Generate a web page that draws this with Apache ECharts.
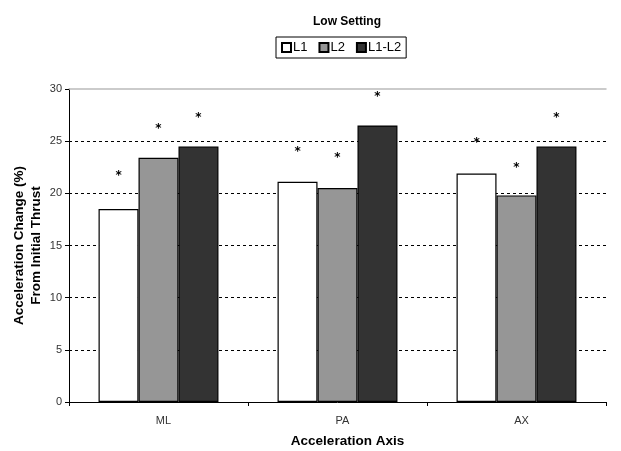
<!DOCTYPE html>
<html><head><meta charset="utf-8">
<script src="https://cdn.jsdelivr.net/npm/echarts@6/dist/echarts.min.js"></script>
<style>html,body{margin:0;padding:0;background:#fff}#c{width:621px;height:451px}</style>
</head><body><div id="c"></div>
<script>
var categories = ['ML', 'PA', 'AX'];
var seriesNames = ['L1', 'L2', 'L1-L2'];
var L1 = [18.5, 21.1, 21.9];
var L2 = [23.4, 20.5, 19.8];
var L1L2 = [24.5, 26.5, 24.5];
var starL1 = [21.9, 24.2, 25.0];
var starL2 = [26.4, 23.6, 22.6];
var starL1L2 = [27.4, 29.4, 27.4];
var yTicks = [0, 5, 10, 15, 20, 25, 30];

var values = [L1, L2, L1L2];
var stars = [starL1, starL2, starL1L2];
var colors = ['#ffffff', '#969696', '#333333'];
var series = [];
values.forEach(function (v, i) {
  series.push({
    name: seriesNames[i], type: 'bar', stack: 's' + i, data: v,
    itemStyle: { color: colors[i], borderColor: '#000', borderWidth: 1.2 },
    barCategoryGap: '33%', barGap: '0%'
  });
  series.push({
    name: 'star' + i, type: 'bar', stack: 's' + i,
    data: v.map(function (x, j) { return +(stars[i][j] - x).toFixed(2); }),
    itemStyle: { color: 'transparent' },
    label: { show: true, position: 'insideTop', distance: -4, formatter: '*', fontSize: 12, fontWeight: 'bold', color: '#000', fontFamily: 'DejaVu Sans' },
    tooltip: { show: false }, silent: true
  });
});

var splitColors = yTicks.map(function (t, k) { return k === yTicks.length - 1 ? 'transparent' : '#000'; });

var chart = echarts.init(document.getElementById('c'));
chart.setOption({
  animation: false,
  title: { text: 'Low Setting', left: 342, top: 11, textAlign: 'center',
    textStyle: { fontSize: 12, fontWeight: 'bold', color: '#000', fontFamily: 'Liberation Sans' } },
  legend: { data: seriesNames, top: 37, left: 276, padding: [4, 5, 4, 5], itemGap: 11,
    icon: 'rect', borderColor: '#000', borderWidth: 1, itemWidth: 9, itemHeight: 9,
    textStyle: { fontSize: 13, color: '#000', fontFamily: 'Liberation Sans', padding: [0, 0, 0, -3] } },
  grid: { left: 69, right: 15, top: 89, bottom: 49, outerBoundsMode: 'none', containLabel: false },
  xAxis: [{
    type: 'category', data: categories,
    name: 'Acceleration Axis', nameLocation: 'middle', nameGap: 32, nameMoveOverlap: false,
    nameTextStyle: { fontSize: 13.5, fontWeight: 'bold', color: '#000', fontFamily: 'Liberation Sans', padding: [0, 0, 0, 20] },
    axisLine: { lineStyle: { color: '#000', width: 1 } },
    axisTick: { show: true, length: 4, lineStyle: { color: '#000' } },
    axisLabel: { fontSize: 11, color: '#333', margin: 13, fontFamily: 'Liberation Sans', padding: [0, 0, 0, 10] }
  }, {
    type: 'category', data: categories, position: 'top',
    axisLine: { show: true, lineStyle: { color: '#bbb', width: 1.5 } },
    axisTick: { show: false }, axisLabel: { show: false }, splitLine: { show: false }
  }],
  yAxis: {
    type: 'value', min: yTicks[0], max: yTicks[yTicks.length - 1], interval: 5,
    name: 'Acceleration Change (%)\nFrom Initial Thrust', nameLocation: 'middle', nameGap: 24, nameMoveOverlap: false,
    nameTextStyle: { fontSize: 13.5, fontWeight: 'bold', color: '#000', fontFamily: 'Liberation Sans', lineHeight: 17 },
    axisLine: { show: true, lineStyle: { color: '#000', width: 1 } },
    axisTick: { show: true, length: 4, lineStyle: { color: '#000' } },
    axisLabel: { fontSize: 11, color: '#333', margin: 7, fontFamily: 'Liberation Sans' },
    splitLine: { show: true, lineStyle: { color: splitColors, type: [3, 3], width: 1 } }
  },
  series: series
});
</script>
</body></html>
